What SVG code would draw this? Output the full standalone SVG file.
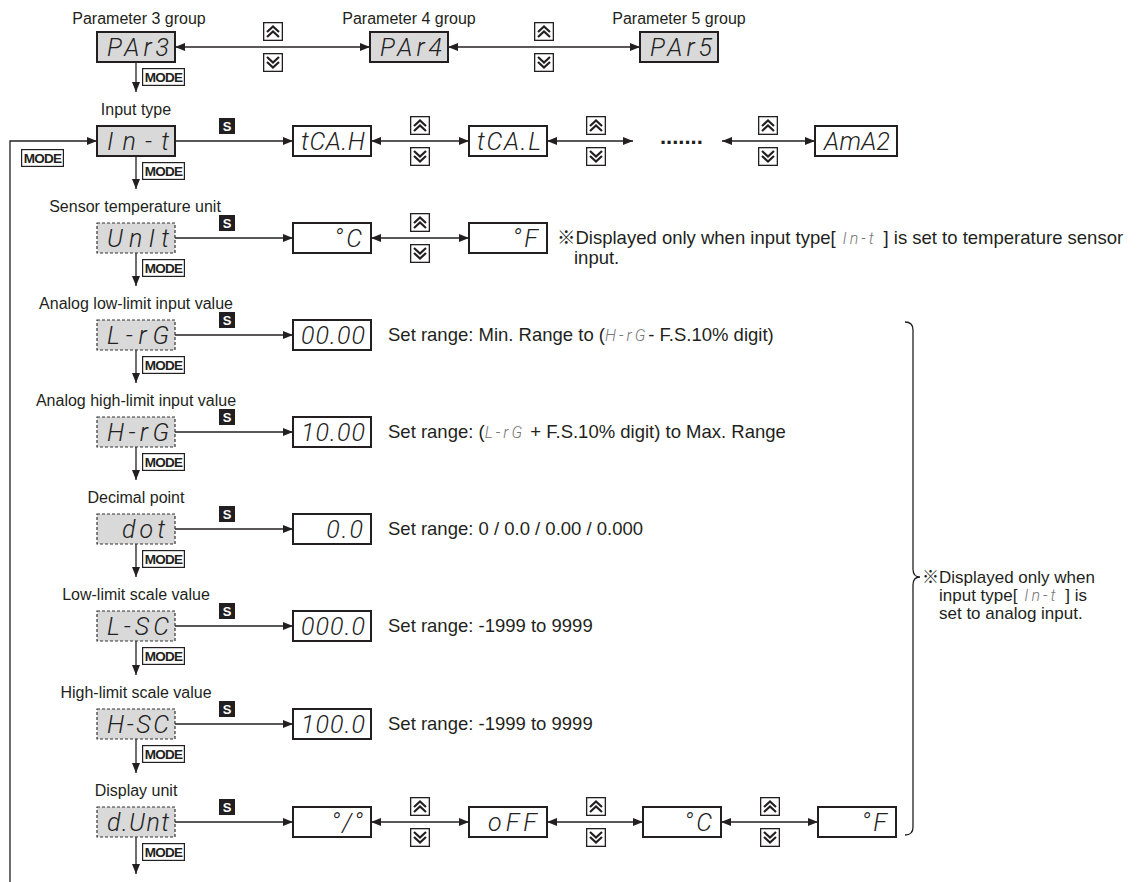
<svg xmlns="http://www.w3.org/2000/svg" xmlns:xlink="http://www.w3.org/1999/xlink" width="1146" height="882" viewBox="0 0 1146 882">
<style>
.lb{font-family:"Liberation Sans",Arial,sans-serif;font-size:16px;fill:#231f20;text-anchor:middle}
.tx{font-family:"Liberation Sans",Arial,"Noto Sans CJK JP",sans-serif;font-size:18.5px;fill:#231f20}
.nt{font-family:"Liberation Sans",Arial,"Noto Sans CJK JP",sans-serif;font-size:17px;fill:#231f20}
.nt1{font-family:"Liberation Sans",Arial,"Noto Sans CJK JP",sans-serif;font-size:18.5px;fill:#231f20}
.sm{font-family:Roboto,"Liberation Sans",sans-serif;font-style:italic;font-weight:300;font-size:16px;fill:#777;letter-spacing:3px}
.seg{font-family:Roboto,"Liberation Sans",sans-serif;font-style:italic;font-weight:300;font-size:25px;fill:#222;text-anchor:end}
.gbox{fill:#d9d9d9;stroke:#231f20;stroke-width:2}
.dbox{fill:#d9d9d9;stroke:#333;stroke-width:1.2;stroke-dasharray:3 2}
.wbox{fill:#fff;stroke:#231f20;stroke-width:2}
.ln{fill:none;stroke:#231f20;stroke-width:1.3}
.a1{marker-end:url(#ah)}
.a2{marker-start:url(#ah);marker-end:url(#ah)}
</style>
<defs>
<marker id="ah" markerUnits="userSpaceOnUse" markerWidth="11" markerHeight="8" refX="10" refY="4" orient="auto-start-reverse">
<path d="M0,0 L10,4 L0,8 z" fill="#231f20"/>
</marker>
<symbol id="up" viewBox="0 0 20 19">
<rect x="0.65" y="0.65" width="18.7" height="17.7" fill="#fff" stroke="#231f20" stroke-width="1.3"/>
<polyline points="4,10 10,4.5 16,10" fill="none" stroke="#231f20" stroke-width="2.2"/>
<polyline points="4,15 10,9.5 16,15" fill="none" stroke="#231f20" stroke-width="2.2"/>
</symbol>
<symbol id="dn" viewBox="0 0 20 19">
<rect x="0.65" y="0.65" width="18.7" height="17.7" fill="#fff" stroke="#231f20" stroke-width="1.3"/>
<polyline points="4,4 10,9.5 16,4" fill="none" stroke="#231f20" stroke-width="2.2"/>
<polyline points="4,9 10,14.5 16,9" fill="none" stroke="#231f20" stroke-width="2.2"/>
</symbol>
<symbol id="mode" viewBox="0 0 43 18">
<rect x="0.6" y="0.6" width="41.8" height="16.8" fill="#fff" stroke="#231f20" stroke-width="1.2"/>
<text x="21.5" y="14" text-anchor="middle" font-family="Liberation Sans,Arial,sans-serif" font-weight="bold" font-size="13.5" letter-spacing="-0.7" fill="#231f20">MODE</text>
</symbol>
<symbol id="s" viewBox="0 0 16 16">
<rect x="0" y="0" width="16" height="16" fill="#231f20"/>
<text x="8" y="13" text-anchor="middle" font-family="Liberation Sans,Arial,sans-serif" font-weight="bold" font-size="13" fill="#fff">S</text>
</symbol>
</defs>
<rect width="1146" height="882" fill="#fff"/>

<g id="connectors">
<line class="ln a2" x1="175" y1="47" x2="370" y2="47"/>
<line class="ln a2" x1="448" y1="47" x2="640" y2="47"/>
<use href="#up" x="263" y="22" width="20" height="19"/><use href="#dn" x="263" y="53" width="20" height="19"/>
<use href="#up" x="534" y="22" width="20" height="19"/><use href="#dn" x="534" y="53" width="20" height="19"/>
<line class="ln a1" x1="136" y1="62" x2="136" y2="92"/>
<use href="#mode" x="142" y="68" width="43" height="18"/>
<line class="ln a1" x1="136" y1="156" x2="136" y2="189"/>
<use href="#mode" x="142" y="162" width="43" height="18"/>
<line class="ln a1" x1="136" y1="253" x2="136" y2="286"/>
<use href="#mode" x="142" y="259" width="43" height="18"/>
<line class="ln a1" x1="136" y1="350" x2="136" y2="383"/>
<use href="#mode" x="142" y="356" width="43" height="18"/>
<line class="ln a1" x1="136" y1="447" x2="136" y2="480"/>
<use href="#mode" x="142" y="453" width="43" height="18"/>
<line class="ln a1" x1="136" y1="544" x2="136" y2="577"/>
<use href="#mode" x="142" y="550" width="43" height="18"/>
<line class="ln a1" x1="136" y1="641" x2="136" y2="675"/>
<use href="#mode" x="142" y="647" width="43" height="18"/>
<line class="ln a1" x1="136" y1="739" x2="136" y2="773"/>
<use href="#mode" x="142" y="745" width="43" height="18"/>
<line class="ln a1" x1="136" y1="837" x2="136" y2="874"/>
<use href="#mode" x="142" y="843" width="43" height="18"/>
<path class="ln a1" d="M10,882 V141 H97"/>
<use href="#mode" x="21" y="149" width="43" height="18"/>
<line class="ln a1" x1="175" y1="141" x2="293" y2="141"/><use href="#s" x="219" y="118" width="16" height="16"/>
<line class="ln a1" x1="175" y1="238" x2="293" y2="238"/><use href="#s" x="219" y="215" width="16" height="16"/>
<line class="ln a1" x1="175" y1="335" x2="293" y2="335"/><use href="#s" x="219" y="312" width="16" height="16"/>
<line class="ln a1" x1="175" y1="432" x2="293" y2="432"/><use href="#s" x="219" y="409" width="16" height="16"/>
<line class="ln a1" x1="175" y1="529" x2="293" y2="529"/><use href="#s" x="219" y="506" width="16" height="16"/>
<line class="ln a1" x1="175" y1="626" x2="293" y2="626"/><use href="#s" x="219" y="603" width="16" height="16"/>
<line class="ln a1" x1="175" y1="724" x2="293" y2="724"/><use href="#s" x="219" y="701" width="16" height="16"/>
<line class="ln a1" x1="175" y1="822" x2="293" y2="822"/><use href="#s" x="219" y="799" width="16" height="16"/>
<line class="ln a2" x1="371" y1="141" x2="469" y2="141"/>
<use href="#up" x="410" y="116" width="20" height="19"/><use href="#dn" x="410" y="147" width="20" height="19"/>
<line class="ln a2" x1="547" y1="141" x2="633" y2="141"/>
<use href="#up" x="586" y="116" width="20" height="19"/><use href="#dn" x="586" y="147" width="20" height="19"/>
<line class="ln a2" x1="722" y1="141" x2="815" y2="141"/>
<use href="#up" x="758" y="116" width="20" height="19"/><use href="#dn" x="758" y="147" width="20" height="19"/>
<line class="ln a2" x1="371" y1="238" x2="469" y2="238"/>
<use href="#up" x="410" y="213" width="20" height="19"/><use href="#dn" x="410" y="244" width="20" height="19"/>
<line class="ln a2" x1="371" y1="822" x2="469" y2="822"/>
<use href="#up" x="410" y="797" width="20" height="19"/><use href="#dn" x="410" y="828" width="20" height="19"/>
<line class="ln a2" x1="547" y1="822" x2="643" y2="822"/>
<use href="#up" x="586" y="797" width="20" height="19"/><use href="#dn" x="586" y="828" width="20" height="19"/>
<line class="ln a2" x1="721" y1="822" x2="818" y2="822"/>
<use href="#up" x="760" y="797" width="20" height="19"/><use href="#dn" x="760" y="828" width="20" height="19"/>
<path class="ln" d="M905,322 Q913,322 913,330 L913,569 Q913,577 920,577 Q913,577 913,585 L913,827 Q913,835 905,835"/>
</g>

<g id="par3"><text class="lb" x="139" y="24">Parameter 3 group</text><rect class="gbox" x="97" y="32" width="78" height="30"/><text class="seg" x="169" y="56" textLength="62" lengthAdjust="spacing">PAr3</text></g>
<g id="par4"><text class="lb" x="409" y="24">Parameter 4 group</text><rect class="gbox" x="370" y="32" width="78" height="30"/><text class="seg" x="442" y="56" textLength="62" lengthAdjust="spacing">PAr4</text></g>
<g id="par5"><text class="lb" x="679" y="24">Parameter 5 group</text><rect class="gbox" x="640" y="32" width="78" height="30"/><text class="seg" x="712" y="56" textLength="62" lengthAdjust="spacing">PAr5</text></g>

<g id="in-t"><text class="lb" x="136" y="115">Input type</text><rect class="gbox" x="97" y="126" width="78" height="30"/><text class="seg" x="169" y="150" textLength="62" lengthAdjust="spacing">In-t</text></g>
<g id="tcah"><rect class="wbox" x="293" y="126" width="78" height="30"/><text class="seg" x="365" y="150" textLength="64" lengthAdjust="spacing">tCA.H</text></g>
<g id="tcal"><rect class="wbox" x="469" y="126" width="78" height="30"/><text class="seg" x="541" y="150" textLength="64" lengthAdjust="spacing">tCA.L</text></g>
<g id="dots"><text x="660" y="144" font-family="Liberation Sans,Arial,sans-serif" font-weight="bold" font-size="22" fill="#231f20">.......</text></g>
<g id="ama2"><rect class="wbox" x="815" y="126" width="82" height="30"/><text class="seg" x="890" y="150" textLength="66" lengthAdjust="spacing">AmA2</text></g>

<g id="unit"><text class="lb" x="135" y="212">Sensor temperature unit</text><rect class="dbox" x="97" y="223" width="78" height="30"/><text class="seg" x="169" y="247" textLength="62" lengthAdjust="spacing">UnIt</text></g>
<g id="degc1"><rect class="wbox" x="293" y="223" width="78" height="30"/><text class="seg" x="365" y="247" letter-spacing="3">°C</text></g>
<g id="degf1"><rect class="wbox" x="469" y="223" width="78" height="30"/><text class="seg" x="541" y="247" letter-spacing="3">°F</text></g>
<g id="note1"><text class="nt1" x="557" y="244">※Displayed only when input type[<tspan class="sm"> In-t </tspan>] is set to temperature sensor</text><text class="nt1" x="574" y="264">input.</text></g>

<g id="l-rg"><text class="lb" x="136" y="309">Analog low-limit input value</text><rect class="dbox" x="97" y="320" width="78" height="30"/><text class="seg" x="169" y="344" textLength="62" lengthAdjust="spacing">L-rG</text></g>
<g id="v0000"><rect class="wbox" x="293" y="320" width="78" height="30"/><text class="seg" x="365" y="344" textLength="64" lengthAdjust="spacing">00.00</text><text class="tx" x="388" y="341">Set range: Min. Range to (<tspan class="sm">H-rG</tspan>- F.S.10% digit)</text></g>

<g id="h-rg"><text class="lb" x="136" y="406">Analog high-limit input value</text><rect class="dbox" x="97" y="417" width="78" height="30"/><text class="seg" x="169" y="441" textLength="62" lengthAdjust="spacing">H-rG</text></g>
<g id="v1000"><rect class="wbox" x="293" y="417" width="78" height="30"/><text class="seg" x="365" y="441" textLength="64" lengthAdjust="spacing">10.00</text><text class="tx" x="388" y="438">Set range: (<tspan class="sm">L-rG</tspan> + F.S.10% digit) to Max. Range</text></g>

<g id="dot"><text class="lb" x="136" y="503">Decimal point</text><rect class="dbox" x="97" y="514" width="78" height="30"/><text class="seg" x="169" y="538" letter-spacing="4">dot</text></g>
<g id="v00"><rect class="wbox" x="293" y="514" width="78" height="30"/><text class="seg" x="365" y="538" letter-spacing="2">0.0</text><text class="tx" x="388" y="535">Set range: 0 / 0.0 / 0.00 / 0.000</text></g>

<g id="l-sc"><text class="lb" x="136" y="600">Low-limit scale value</text><rect class="dbox" x="97" y="611" width="78" height="30"/><text class="seg" x="169" y="635" textLength="62" lengthAdjust="spacing">L-SC</text></g>
<g id="v0000b"><rect class="wbox" x="293" y="611" width="78" height="30"/><text class="seg" x="365" y="635" textLength="64" lengthAdjust="spacing">000.0</text><text class="tx" x="388" y="632">Set range: -1999 to 9999</text></g>

<g id="h-sc"><text class="lb" x="136" y="698">High-limit scale value</text><rect class="dbox" x="97" y="709" width="78" height="30"/><text class="seg" x="169" y="733" textLength="62" lengthAdjust="spacing">H-SC</text></g>
<g id="v1000b"><rect class="wbox" x="293" y="709" width="78" height="30"/><text class="seg" x="365" y="733" textLength="64" lengthAdjust="spacing">100.0</text><text class="tx" x="388" y="730">Set range: -1999 to 9999</text></g>

<g id="d-unt"><text class="lb" x="136" y="796">Display unit</text><rect class="dbox" x="97" y="807" width="78" height="30"/><text class="seg" x="169" y="831" textLength="62" lengthAdjust="spacing">d.Unt</text></g>
<g id="pct"><rect class="wbox" x="293" y="807" width="78" height="30"/><text class="seg" x="365" y="831" letter-spacing="2">°/°</text></g>
<g id="off"><rect class="wbox" x="469" y="807" width="78" height="30"/><text class="seg" x="541" y="831" letter-spacing="4">oFF</text></g>
<g id="degc2"><rect class="wbox" x="643" y="807" width="78" height="30"/><text class="seg" x="715" y="831" letter-spacing="3">°C</text></g>
<g id="degf2"><rect class="wbox" x="818" y="807" width="78" height="30"/><text class="seg" x="890" y="831" letter-spacing="3">°F</text></g>

<g id="note2"><text class="nt" x="922" y="583">※Displayed only when</text><text class="nt" x="939" y="601">input type[<tspan class="sm"> In-t </tspan>] is</text><text class="nt" x="939" y="619">set to analog input.</text></g>
</svg>
